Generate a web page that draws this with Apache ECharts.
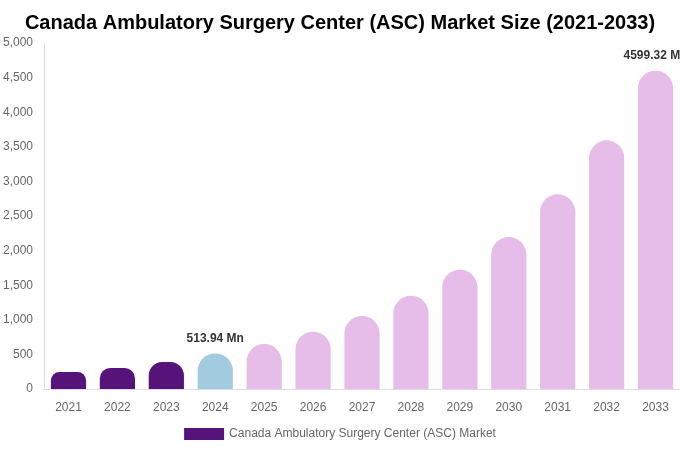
<!DOCTYPE html>
<html><head><meta charset="utf-8">
<script src="https://cdn.jsdelivr.net/npm/echarts@6/dist/echarts.min.js"></script>
<style>html,body{margin:0;padding:0;background:#fff}#c{width:680px;height:450px}</style>
</head><body><div id="c"></div>
<script>
var years = ['2021','2022','2023','2024','2025','2026','2027','2028','2029','2030','2031','2032','2033'];
var values = [246, 303, 390, 513.94, 650, 828, 1055, 1348, 1724, 2196, 2813, 3594, 4599.32];
var barColors = ['#56147a','#56147a','#56147a','#a3cbe0','#e6bde8','#e6bde8','#e6bde8','#e6bde8','#e6bde8','#e6bde8','#e6bde8','#e6bde8','#e6bde8'];
var labelled = ['2024','2033'];
var seriesName = 'Canada Ambulatory Surgery Center (ASC) Market';
var FONT = 'Liberation Sans, Arial, sans-serif';

var chart = echarts.init(document.getElementById('c'));
function buildData(radii){
  return values.map(function(v, i){
    var r = radii ? radii[i] : 18;
    return {
      value: v,
      itemStyle: {color: barColors[i], borderRadius: [r, r, 0, 0]},
      label: {show: labelled.indexOf(years[i]) >= 0}
    };
  });
}
chart.setOption({
  animation: false,
  title: {
    text: 'Canada Ambulatory Surgery Center (ASC) Market Size (2021-2033)',
    left: 'center', top: 8,
    textStyle: {fontFamily: FONT, fontSize: 20, fontWeight: 'bold', color: '#000'}
  },
  legend: {
    bottom: 5, left: 'center',
    itemWidth: 40, itemHeight: 12, icon: 'rect',
    textStyle: {fontFamily: FONT, fontSize: 12, color: '#666'},
    data: [{name: seriesName, itemStyle: {color: '#56147a'}}]
  },
  grid: {left: 44, right: 0, top: 43, bottom: 61},
  xAxis: {
    type: 'category', data: years,
    axisLine: {lineStyle: {color: '#ddd'}},
    axisTick: {show: false},
    axisLabel: {color: '#666', fontSize: 12, margin: 13, fontFamily: FONT}
  },
  yAxis: {
    type: 'value', min: 0, max: 5000, interval: 500,
    axisLine: {show: true, lineStyle: {color: '#ddd'}},
    splitLine: {show: false},
    axisLabel: {color: '#666', fontSize: 12, margin: 11, fontFamily: FONT,
      formatter: function(v){ return v.toLocaleString('en-US'); }}
  },
  series: [{
    name: seriesName, type: 'bar', barWidth: '72%',
    data: buildData(null),
    label: {
      position: 'top', distance: 9,
      fontFamily: FONT, fontSize: 12, fontWeight: 'bold', color: '#333',
      formatter: function(p){ return p.value + ' Mn'; }
    }
  }]
});
// corner radius limited to half the bar's drawn height
var base = chart.convertToPixel({yAxisIndex: 0}, 0);
var radii = values.map(function(v){
  var h = base - chart.convertToPixel({yAxisIndex: 0}, v);
  return Math.min(18, h / 2);
});
chart.setOption({series: [{data: buildData(radii)}]});
</script></body></html>
